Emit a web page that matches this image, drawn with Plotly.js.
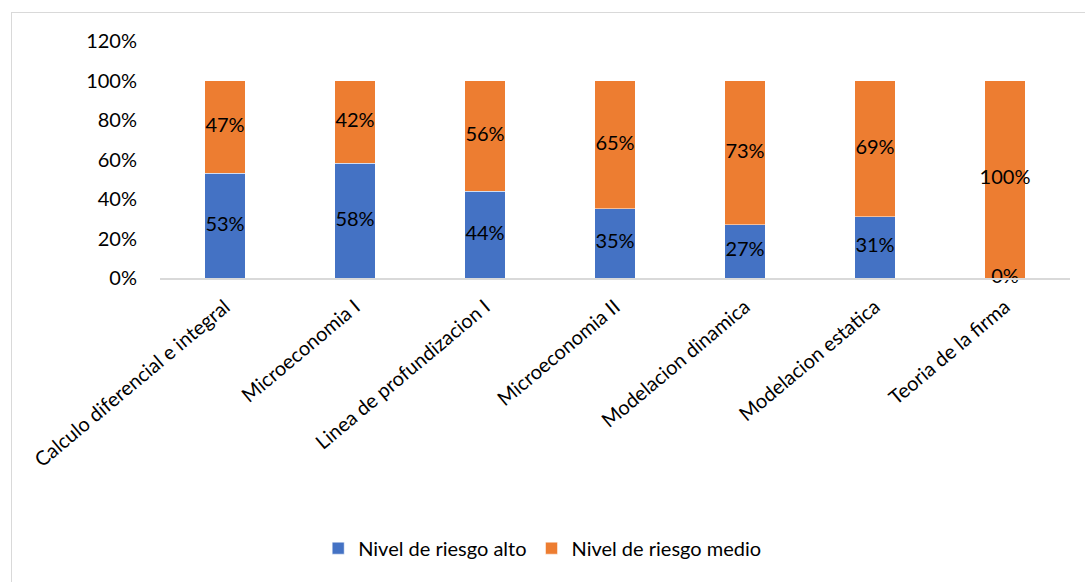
<!DOCTYPE html>
<html>
<head>
<meta charset="utf-8">
<script src="https://cdn.plot.ly/plotly-3.0.1.min.js"></script>
<style>
  html, body { margin: 0; padding: 0; background: #fff; overflow: hidden; }
  #frame { position: absolute; left: 11px; top: 12px; width: 1200px; height: 700px; border-top: 1.5px solid #d9d9d9; border-left: 1.5px solid #d9d9d9; box-sizing: border-box; pointer-events: none; z-index: 5; }
  #chart { position: absolute; left: 0; top: 0; width: 1085px; height: 582px; }
</style>
</head>
<body>
<div id="chart"></div>
<div id="frame"></div>
<script>
const categories = [
  "Calculo diferencial e integral",
  "Microeconomia I",
  "Linea de profundizacion I",
  "Microeconomia II",
  "Modelacion dinamica",
  "Modelacion estatica",
  "Teoria de la firma"
];
const riesgoAlto = [0.53, 0.58, 0.44, 0.35, 0.27, 0.31, 0.00];
const riesgoMedio = [0.47, 0.42, 0.56, 0.65, 0.73, 0.69, 1.00];
const yTickVals = [0, 0.2, 0.4, 0.6, 0.8, 1.0, 1.2];
const yTickText = ["0%", "20%", "40%", "60%", "80%", "100%", "120%"];

const FONT = "Lato, 'Open Sans', sans-serif";
const FS = 20;
const pct = v => Math.round(v * 100) + "%";

const traces = [
  {
    type: "bar", name: "Nivel de riesgo alto", x: categories, y: riesgoAlto,
    marker: { color: "#4472C4", line: { color: "#ffffff", width: 0.5 } },
    hoverinfo: "skip"
  },
  {
    type: "bar", name: "Nivel de riesgo medio", x: categories, y: riesgoMedio,
    marker: { color: "#ED7D31", line: { color: "#ffffff", width: 0.5 } },
    hoverinfo: "skip"
  },
  {
    type: "scatter", mode: "text", x: categories,
    y: riesgoAlto.map(v => v / 2),
    text: riesgoAlto.map(pct),
    textfont: { family: FONT, size: FS, color: "#000" },
    showlegend: false, hoverinfo: "skip", cliponaxis: false
  },
  {
    type: "scatter", mode: "text", x: categories,
    y: riesgoMedio.map((v, i) => riesgoAlto[i] + v / 2),
    text: riesgoMedio.map(pct),
    textfont: { family: FONT, size: FS, color: "#000" },
    showlegend: false, hoverinfo: "skip", cliponaxis: false
  }
];

const layout = {
  width: 1085, height: 582,
  margin: { l: 160, r: 15, t: 41, b: 304, pad: 0 },
  barmode: "stack",
  bargap: 0.69,
  paper_bgcolor: "#fff", plot_bgcolor: "#fff",
  font: { family: FONT, size: FS, color: "#000" },
  showlegend: true,
  legend: {
    orientation: "h", x: 0.42, xanchor: "center", y: -1.14, yanchor: "middle",
    font: { family: FONT, size: FS, color: "#000" },
    traceorder: "normal", itemwidth: 30
  },
  xaxis: {
    type: "category", tickangle: -40, showgrid: false, zeroline: false,
    showline: true, linecolor: "#d9d9d9", linewidth: 1.5,
    ticks: "", ticklabelstandoff: 8,
    tickfont: { family: FONT, size: FS, color: "#000" },
    fixedrange: true
  },
  yaxis: {
    range: [0, 1.2], tickvals: yTickVals, ticktext: yTickText,
    showgrid: false, zeroline: false, showline: false, ticks: "",
    ticklabelstandoff: 22,
    tickfont: { family: FONT, size: FS, color: "#000" },
    fixedrange: true
  }
};

Plotly.newPlot("chart", traces, layout, { displayModeBar: false, staticPlot: true });
</script>
</body>
</html>
